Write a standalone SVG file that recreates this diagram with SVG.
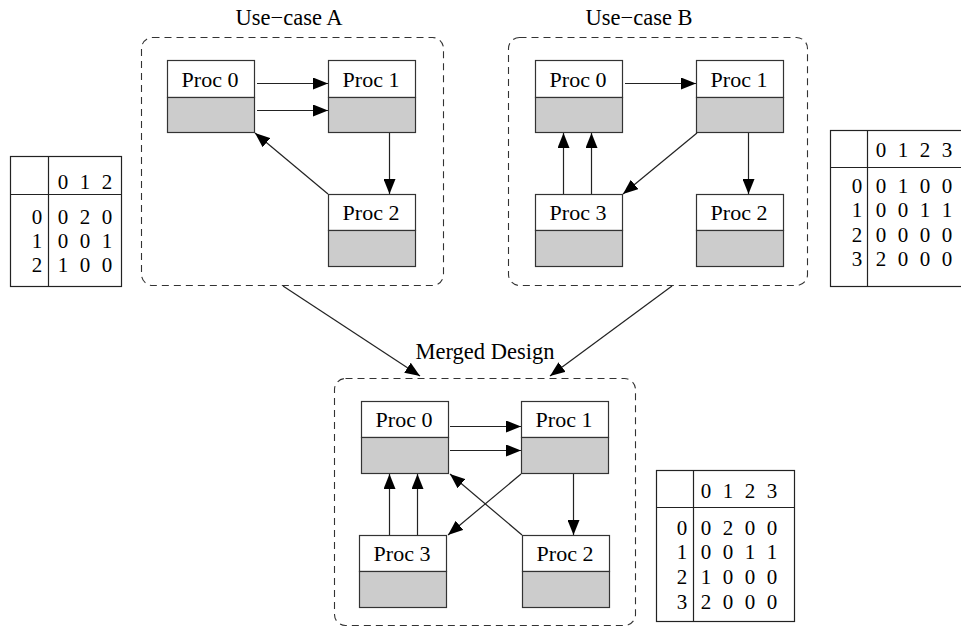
<svg xmlns="http://www.w3.org/2000/svg" width="961" height="627" viewBox="0 0 961 627">
<defs>
<marker id="ah" markerUnits="userSpaceOnUse" markerWidth="16" markerHeight="12" refX="15" refY="6" orient="auto">
<path d="M0,0 L15,6 L0,12 z" fill="#000"/>
</marker>
<style>
text{font-family:"Liberation Serif","Times New Roman",serif;fill:#000}
.lbl{font-size:22px;text-anchor:middle}
.ttl{font-size:22.5px;text-anchor:middle}
.num{font-size:21px;text-anchor:middle}
.top{fill:#fff;stroke:#333;stroke-width:1.2}
.bot{fill:#cccccc;stroke:#333;stroke-width:1.2}
.grp{fill:none;stroke:#333;stroke-width:1.1;stroke-dasharray:7,5}
.tbl{fill:#fff;stroke:#222;stroke-width:1.2}
.tl{stroke:#222;stroke-width:1.2}
.c{stroke:#222;stroke-width:1.2;fill:none;marker-end:url(#ah)}
</style>
</defs>
<rect width="961" height="627" fill="#fff"/>

<!-- Group boxes -->
<g id="usecaseA">
<rect class="grp" x="141.5" y="37.5" width="302" height="248" rx="11"/>
<text class="ttl" x="289" y="25">Use−case A</text>
</g>
<g id="usecaseB">
<rect class="grp" x="508.5" y="37.5" width="299" height="248" rx="11"/>
<text class="ttl" x="639" y="25">Use−case B</text>
</g>
<g id="merged">
<rect class="grp" x="334.5" y="378.5" width="301" height="247" rx="11"/>
<text class="ttl" x="485" y="359">Merged Design</text>
</g>

<!-- Use-case A nodes -->
<g id="A_proc0"><rect class="top" x="167.5" y="60.5" width="87" height="37"/><rect class="bot" x="167.5" y="97.5" width="87" height="35"/><text class="lbl" x="210" y="87">Proc 0</text></g>
<g id="A_proc1"><rect class="top" x="328.5" y="60.5" width="87" height="37"/><rect class="bot" x="328.5" y="97.5" width="87" height="35"/><text class="lbl" x="371" y="87">Proc 1</text></g>
<g id="A_proc2"><rect class="top" x="328.5" y="194.5" width="87" height="36"/><rect class="bot" x="328.5" y="230.5" width="87" height="36"/><text class="lbl" x="371" y="220">Proc 2</text></g>

<!-- Use-case B nodes -->
<g id="B_proc0"><rect class="top" x="535.5" y="60.5" width="87" height="37"/><rect class="bot" x="535.5" y="97.5" width="87" height="35"/><text class="lbl" x="578" y="87">Proc 0</text></g>
<g id="B_proc1"><rect class="top" x="696.5" y="60.5" width="87" height="37"/><rect class="bot" x="696.5" y="97.5" width="87" height="35"/><text class="lbl" x="739" y="87">Proc 1</text></g>
<g id="B_proc3"><rect class="top" x="535.5" y="194.5" width="87" height="36"/><rect class="bot" x="535.5" y="230.5" width="87" height="36"/><text class="lbl" x="578" y="220">Proc 3</text></g>
<g id="B_proc2"><rect class="top" x="696.5" y="194.5" width="87" height="36"/><rect class="bot" x="696.5" y="230.5" width="87" height="36"/><text class="lbl" x="739" y="220">Proc 2</text></g>

<!-- Merged nodes -->
<g id="M_proc0"><rect class="top" x="361.5" y="401.5" width="87" height="36"/><rect class="bot" x="361.5" y="437.5" width="87" height="36"/><text class="lbl" x="404" y="427">Proc 0</text></g>
<g id="M_proc1"><rect class="top" x="521.5" y="401.5" width="87" height="36"/><rect class="bot" x="521.5" y="437.5" width="87" height="36"/><text class="lbl" x="564" y="427">Proc 1</text></g>
<g id="M_proc3"><rect class="top" x="359.5" y="535.5" width="87" height="36"/><rect class="bot" x="359.5" y="571.5" width="87" height="36"/><text class="lbl" x="402" y="561">Proc 3</text></g>
<g id="M_proc2"><rect class="top" x="522.5" y="535.5" width="87" height="36"/><rect class="bot" x="522.5" y="571.5" width="87" height="36"/><text class="lbl" x="565" y="561">Proc 2</text></g>

<!-- Connectors -->
<g id="connectors">
<line class="c" x1="257" y1="83.5" x2="328" y2="83.5"/>
<line class="c" x1="257" y1="110.5" x2="328" y2="110.5"/>
<line class="c" x1="389.5" y1="133" x2="389.5" y2="194"/>
<line class="c" x1="328" y1="194" x2="255" y2="133"/>

<line class="c" x1="625" y1="83.5" x2="696" y2="83.5"/>
<line class="c" x1="748.5" y1="133" x2="748.5" y2="194"/>
<line class="c" x1="697" y1="133" x2="623" y2="194"/>
<line class="c" x1="563.5" y1="194" x2="563.5" y2="133"/>
<line class="c" x1="591.5" y1="194" x2="591.5" y2="133"/>

<line class="c" x1="450" y1="426.5" x2="521" y2="426.5"/>
<line class="c" x1="450" y1="450.5" x2="521" y2="450.5"/>
<line class="c" x1="573.5" y1="474" x2="573.5" y2="535"/>
<line class="c" x1="521" y1="474" x2="448" y2="535"/>
<line class="c" x1="522" y1="535" x2="450" y2="474"/>
<line class="c" x1="389.5" y1="535" x2="389.5" y2="474"/>
<line class="c" x1="417.5" y1="535" x2="417.5" y2="474"/>

<line class="c" x1="283" y1="286" x2="420" y2="376"/>
<line class="c" x1="672" y1="286" x2="550" y2="376"/>
</g>

<!-- Table A -->
<g id="tableA">
<rect class="tbl" x="10.5" y="156.5" width="111" height="130"/>
<line class="tl" x1="48.5" y1="156.5" x2="48.5" y2="286.5"/>
<line class="tl" x1="10.5" y1="194.5" x2="121.5" y2="194.5"/>
<text class="num" x="63" y="189">0</text><text class="num" x="85" y="189">1</text><text class="num" x="107" y="189">2</text>
<text class="num" x="37" y="224">0</text><text class="num" x="63" y="224">0</text><text class="num" x="85" y="224">2</text><text class="num" x="107" y="224">0</text>
<text class="num" x="37" y="248">1</text><text class="num" x="63" y="248">0</text><text class="num" x="85" y="248">0</text><text class="num" x="107" y="248">1</text>
<text class="num" x="37" y="272">2</text><text class="num" x="63" y="272">1</text><text class="num" x="85" y="272">0</text><text class="num" x="107" y="272">0</text>
</g>

<!-- Table B -->
<g id="tableB">
<rect class="tbl" x="830.5" y="130.5" width="140" height="156"/>
<line class="tl" x1="867.5" y1="130.5" x2="867.5" y2="286.5"/>
<line class="tl" x1="830.5" y1="167.5" x2="961" y2="167.5"/>
<text class="num" x="881" y="157">0</text><text class="num" x="903" y="157">1</text><text class="num" x="925" y="157">2</text><text class="num" x="947" y="157">3</text>
<text class="num" x="857" y="193">0</text><text class="num" x="881" y="193">0</text><text class="num" x="903" y="193">1</text><text class="num" x="925" y="193">0</text><text class="num" x="947" y="193">0</text>
<text class="num" x="857" y="217">1</text><text class="num" x="881" y="217">0</text><text class="num" x="903" y="217">0</text><text class="num" x="925" y="217">1</text><text class="num" x="947" y="217">1</text>
<text class="num" x="857" y="242">2</text><text class="num" x="881" y="242">0</text><text class="num" x="903" y="242">0</text><text class="num" x="925" y="242">0</text><text class="num" x="947" y="242">0</text>
<text class="num" x="857" y="266">3</text><text class="num" x="881" y="266">2</text><text class="num" x="903" y="266">0</text><text class="num" x="925" y="266">0</text><text class="num" x="947" y="266">0</text>
</g>

<!-- Table Merged -->
<g id="tableM">
<rect class="tbl" x="656.5" y="470.5" width="138" height="151"/>
<line class="tl" x1="693.5" y1="470.5" x2="693.5" y2="621.5"/>
<line class="tl" x1="656.5" y1="507.5" x2="794.5" y2="507.5"/>
<text class="num" x="706" y="498">0</text><text class="num" x="728" y="498">1</text><text class="num" x="750" y="498">2</text><text class="num" x="772" y="498">3</text>
<text class="num" x="682" y="535">0</text><text class="num" x="706" y="535">0</text><text class="num" x="728" y="535">2</text><text class="num" x="750" y="535">0</text><text class="num" x="772" y="535">0</text>
<text class="num" x="682" y="559">1</text><text class="num" x="706" y="559">0</text><text class="num" x="728" y="559">0</text><text class="num" x="750" y="559">1</text><text class="num" x="772" y="559">1</text>
<text class="num" x="682" y="584">2</text><text class="num" x="706" y="584">1</text><text class="num" x="728" y="584">0</text><text class="num" x="750" y="584">0</text><text class="num" x="772" y="584">0</text>
<text class="num" x="682" y="609">3</text><text class="num" x="706" y="609">2</text><text class="num" x="728" y="609">0</text><text class="num" x="750" y="609">0</text><text class="num" x="772" y="609">0</text>
</g>
</svg>
